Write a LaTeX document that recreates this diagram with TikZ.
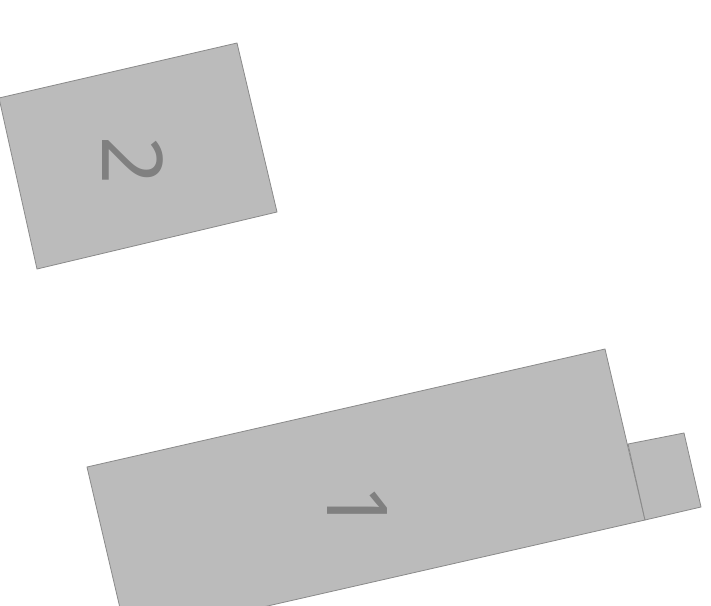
\documentclass[tikz,border=0pt]{standalone}
\usepackage{fontspec}
\setmainfont{Noto Sans}
\definecolor{bldfill}{HTML}{BBBBBB}
\definecolor{bldline}{HTML}{8A8A8A}
\definecolor{lbl}{HTML}{808080}
\begin{document}
\begin{tikzpicture}[x=1pt,y=-1pt,
  bld/.style={fill=bldfill,draw=bldline,line width=0.8pt,line join=miter},
  lab/.style={text=lbl,font=\fontsize{84}{84}\selectfont,rotate=-90,inner sep=0pt}]
\useasboundingbox (0,0) rectangle (711,605);
\clip (0,0) rectangle (711,605);
% building 2
\draw[bld] (-1,98) -- (237,43) -- (277,212) -- (37,269) -- cycle;
% building 1
\draw[bld] (87,467) -- (605,349) -- (645,520) -- (127,638) -- cycle;
% annex
\draw[bld] (628,444) -- (684,433) -- (701,507) -- (645,520) -- cycle;
\node[lab] (two) at (133,161) {2};
\node[lab] (one) at (357,509) {1};
\end{tikzpicture}
\end{document}
